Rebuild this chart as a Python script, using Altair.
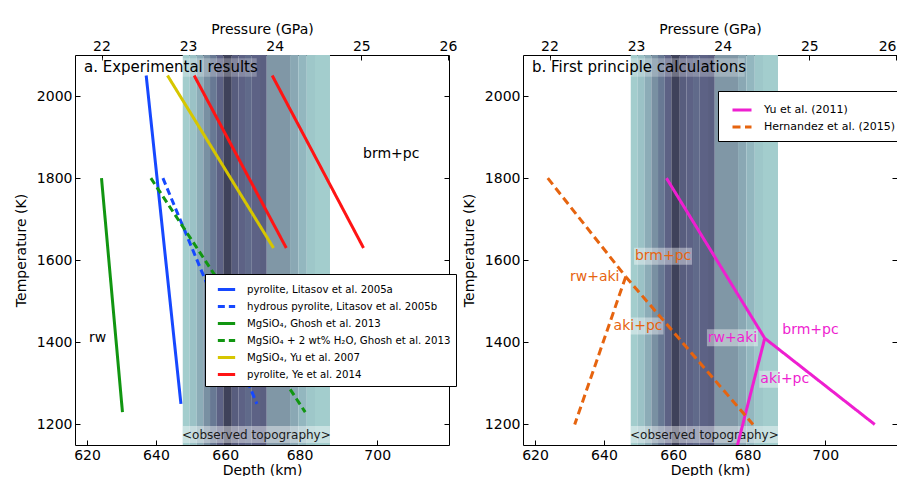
import altair as alt
import pandas as pd

FONT = "DejaVu Sans"
W, H = 374, 390

# ---------------- axes ----------------
P_DOMAIN = [21.694, 26.012]
T_DOMAIN = [1150, 2100]
pressure_ticks = [22, 23, 24, 25, 26]
temperature_ticks = [1200, 1400, 1600, 1800, 2000]
depth_labels = ["620", "640", "660", "680", "700"]
depth_tick_pressure = [21.833, 22.629, 23.428, 24.286, 25.183]

# ------------- observed topography (stripes, pressure in GPa) ------------
stripe_start = [22.938, 23.014, 23.100, 23.176, 23.253, 23.331, 23.407, 23.504, 23.580,
                23.657, 23.735, 23.830, 23.908, 24.177, 24.273, 24.370, 24.465]
stripe_end = stripe_start[1:] + [24.638]
stripe_count = [1, 1.5, 2.5, 4, 5.5, 7, 10, 7.5, 7, 6.5, 7, 7.3, 3.5, 2.7, 2, 1.3, 1]
stripe_levels = [1, 3.5, 7, 10]
stripe_colors = ["#a3cdcd", "#8097a6", "#5d6285", "#3f425a"]

# ------------- panel a: experimental results -----------------
exp_series = [
    "pyrolite, Litasov et al. 2005a",
    "hydrous pyrolite, Litasov et al. 2005b",
    "MgSiO\u2084, Ghosh et al. 2013",
    "MgSiO\u2084 + 2 wt% H\u2082O, Ghosh et al. 2013",
    "MgSiO\u2084, Yu et al. 2007",
    "pyrolite, Ye et al. 2014",
]
exp_colors = ["#1648ff", "#1648ff", "#119611", "#119611", "#d6c600", "#ff1414"]
exp_dashes = [[1, 0], [7, 4], [1, 0], [7, 4], [1, 0], [1, 0]]
exp_seg_series = [0, 1, 2, 3, 4, 5, 5]
exp_P0 = [22.516, 22.709, 22.000, 22.570, 22.762, 23.070, 23.971]
exp_T0 = [2050, 1800, 1800, 1800, 2050, 2050, 2050]
exp_P1 = [22.917, 23.794, 22.242, 24.352, 23.986, 24.133, 25.025]
exp_T1 = [1250, 1250, 1230, 1230, 1630, 1630, 1630]
exp_label_text = ["brm+pc", "rw"]
exp_label_P = [25.345, 21.954]
exp_label_T = [1860, 1410]

# ------------- panel b: first principle calculations -----------------
calc_series = ["Yu et al. (2011)", "Hernandez et al. (2015)"]
calc_colors = ["#ee1fd0", "#e6640f"]
calc_dashes = [[1, 0], [8, 4.5]]
calc_seg_series = [0, 0, 0, 1, 1, 1]
calc_P0 = [23.350, 24.485, 24.485, 21.980, 22.880, 22.880]
calc_T0 = [1800, 1410, 1410, 1800, 1560, 1560]
calc_P1 = [24.485, 25.755, 24.110, 22.880, 24.350, 22.291]
calc_T1 = [1410, 1200, 1100, 1560, 1200, 1200]
orange_label_text = ["brm+pc", "rw+aki", "aki+pc"]
orange_label_P = [23.311, 22.522, 23.022]
orange_label_T = [1610, 1560, 1440]
magenta_label_text = ["rw+aki", "brm+pc", "aki+pc"]
magenta_label_P = [24.112, 25.013, 24.716]
magenta_label_T = [1411, 1430, 1310]


def seg_frame(series, seg_series, P0, T0, P1, T1):
    rows = []
    for i, s in enumerate(seg_series):
        rows.append({"series": series[s], "seg": i, "o": 0, "P": P0[i], "T": T0[i]})
        rows.append({"series": series[s], "seg": i, "o": 1, "P": P1[i], "T": T1[i]})
    return pd.DataFrame(rows)


xscale = alt.Scale(domain=P_DOMAIN, nice=False, zero=False)
yscale = alt.Scale(domain=T_DOMAIN, nice=False, zero=False)

mids = [(depth_tick_pressure[i] + depth_tick_pressure[i + 1]) / 2 for i in range(len(depth_labels) - 1)]
label_expr = ""
for m, lab in zip(mids, depth_labels[:-1]):
    label_expr += f"datum.value < {m:.4f} ? '{lab}' : "
label_expr += f"'{depth_labels[-1]}'"

bottom_axis = alt.Axis(orient="bottom", values=depth_tick_pressure, labelExpr=label_expr,
                       offset=-5, tickSize=5, domain=False, grid=False, labelPadding=3,
                       labelFlush=False, labelOverlap=False,
                       title="Depth (km)", titlePadding=1)


def top_axis(flush):
    return alt.Axis(orient="top", values=pressure_ticks, format="d",
                    offset=-5, tickSize=5, domain=False, grid=False, labelPadding=2,
                    labelFlush=flush, labelFlushOffset=0, labelOverlap=False,
                    title="Pressure (GPa)", titlePadding=3)


left_axis = alt.Axis(orient="left", values=temperature_ticks, format="d",
                     offset=-5, tickSize=5, domain=False, grid=False, labelPadding=3,
                     labelOverlap=False, title="Temperature (K)", titlePadding=8)
right_axis = alt.Axis(orient="right", values=temperature_ticks, labels=False,
                      offset=-5, tickSize=5, domain=False, grid=False, title=None)

stripes_df = pd.DataFrame({"p0": stripe_start, "p1": stripe_end, "n": stripe_count})
obs_df = pd.DataFrame({"p0": [min(stripe_start)], "p1": [max(stripe_end)],
                       "pc": [(min(stripe_start) + max(stripe_end)) / 2],
                       "label": ["<observed topography>"]})


def panel(title, title_box_right, df, series, colors, dashes, legend, label_layers, flush):
    band = alt.Chart(stripes_df).mark_rect().encode(
        x=alt.X("p0:Q", scale=xscale, axis=None), x2="p1:Q",
        y=alt.value(0), y2=alt.value(H),
        fill=alt.Fill("n:Q", scale=alt.Scale(domain=stripe_levels, range=stripe_colors), legend=None),
    )
    obs_box = alt.Chart(obs_df).mark_rect(fill="white", opacity=0.42).encode(
        x=alt.X("p0:Q", scale=xscale, axis=None), x2="p1:Q",
        y=alt.value(371), y2=alt.value(388),
    )
    obs_text = alt.Chart(obs_df).mark_text(font=FONT, fontSize=12, color="#1a1a1a").encode(
        x=alt.X("pc:Q", scale=xscale, axis=None), y=alt.value(379.5), text="label:N",
    )
    tdf = pd.DataFrame({"t": [title]})
    tbox = alt.Chart(tdf).mark_rect(fill="white", opacity=0.25).encode(
        x=alt.value(6), x2=alt.value(title_box_right), y=alt.value(3.3), y2=alt.value(21.7),
    )
    ttext = alt.Chart(tdf).mark_text(font=FONT, fontSize=15, align="left", baseline="alphabetic",
                                     color="black").encode(
        x=alt.value(9), y=alt.value(17.3), text="t:N",
    )
    lines = alt.Chart(df).mark_line(strokeWidth=3, clip=True).encode(
        x=alt.X("P:Q", scale=xscale, axis=bottom_axis),
        y=alt.Y("T:Q", scale=yscale, axis=left_axis),
        color=alt.Color("series:N", scale=alt.Scale(domain=series, range=colors), legend=legend),
        strokeDash=alt.StrokeDash("series:N", scale=alt.Scale(domain=series, range=dashes), legend=legend),
        detail="seg:N",
        order="o:Q",
    )
    ax2 = alt.Chart(df).mark_point(opacity=0).encode(
        x=alt.X("P:Q", scale=xscale, axis=top_axis(flush)),
        y=alt.Y("T:Q", scale=yscale, axis=right_axis),
    )
    layers = [band, obs_box, obs_text, tbox, ttext] + label_layers + [lines, ax2]
    return alt.layer(*layers).resolve_axis(x="independent", y="independent").properties(width=W, height=H)


def label_layer(text, P, T, color, boxes=False):
    d = pd.DataFrame({"text": text, "P": P, "T": T})
    out = []
    if boxes:
        for txt, wdt in (("brm+pc", 58), ("rw+aki", 51), ("aki+pc", 51)):
            out.append(alt.Chart(d).transform_filter(alt.datum.text == txt).mark_rect(
                fill="white", opacity=0.4, width=wdt, height=17).encode(
                x=alt.X("P:Q", scale=xscale, axis=None), y=alt.Y("T:Q", scale=yscale, axis=None)))
    out.append(alt.Chart(d).mark_text(font=FONT, fontSize=14, color=color, baseline="middle").encode(
        x=alt.X("P:Q", scale=xscale, axis=None), y=alt.Y("T:Q", scale=yscale, axis=None), text="text:N"))
    return out


legend_a = alt.Legend(title=None, orient="none", legendX=130, legendY=219, symbolType="stroke",
                      symbolSize=300, symbolStrokeWidth=3, labelFont=FONT, labelFontSize=10.2,
                      labelColor="black", padding=5, symbolOffset=6, labelOffset=10, rowPadding=-0.3,
                      strokeColor="black", fillColor="white", cornerRadius=0, labelLimit=400)
legend_b = alt.Legend(title=None, orient="none", legendX=195, legendY=36, symbolType="stroke",
                      symbolSize=361, symbolStrokeWidth=3, labelFont=FONT, labelFontSize=11.0,
                      labelColor="black", padding=8, symbolOffset=5, labelOffset=11, rowPadding=-3.1,
                      strokeColor="black", fillColor="white", cornerRadius=0, labelLimit=400)

df_a = seg_frame(exp_series, exp_seg_series, exp_P0, exp_T0, exp_P1, exp_T1)
df_b = seg_frame(calc_series, calc_seg_series, calc_P0, calc_T0, calc_P1, calc_T1)

panel_a = panel("a. Experimental results", 181.7, df_a, exp_series, exp_colors, exp_dashes, legend_a,
                label_layer(exp_label_text, exp_label_P, exp_label_T, "black"), False)
panel_b = panel("b. First principle calculations", 221.7, df_b, calc_series, calc_colors, calc_dashes, legend_b,
                label_layer(orange_label_text, orange_label_P, orange_label_T, calc_colors[1], boxes=True)
                + label_layer(magenta_label_text, magenta_label_P, magenta_label_T, calc_colors[0], boxes=True),
                5)

chart = alt.hconcat(panel_a, panel_b, spacing=74, bounds="flush").resolve_scale(
    color="independent", strokeDash="independent", fill="shared"
).resolve_legend(color="independent", strokeDash="independent").properties(
    padding={"left": 5, "top": 13, "right": -8, "bottom": -2}
).configure_view(
    stroke="black", strokeWidth=1
).configure_axis(
    labelFont=FONT, labelFontSize=14, labelColor="black", titleFont=FONT, titleFontSize=14,
    titleFontWeight="normal", titleColor="black", tickColor="black", tickWidth=1
)

chart.save("out.html", embed_options={"renderer": "svg", "actions": False})
